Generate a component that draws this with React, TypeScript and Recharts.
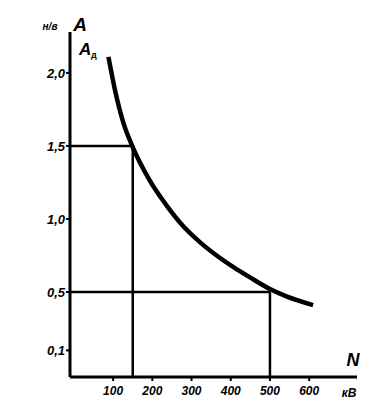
import React from "react";
import { LineChart, Line, XAxis, YAxis, ReferenceLine } from "recharts";

const voltageN = [88, 105, 126, 147, 194, 237, 279, 322, 364, 407, 449, 500, 542, 610];
const currentA = [2.11, 1.88, 1.66, 1.51, 1.26, 1.09, 0.95, 0.84, 0.75, 0.67, 0.6, 0.52, 0.47, 0.41];
const xTicks = [100, 200, 300, 400, 500, 600];
const yTicks = [0.1, 0.5, 1.0, 1.5, 2.0];
const markN = [150, 500];
const markA = [1.5, 0.5];
const xDomain: [number, number] = [-10, 722];
const yDomain: [number, number] = [-0.082, 2.28];

const data = voltageN.map((n, i) => ({ n, a: currentA[i] }));

const font = "'Liberation Sans', Arial, sans-serif";
const fmt = (v: number) => v.toFixed(1).replace(".", ",");

export default function App() {
  const tickStyle = { fontFamily: font, fontSize: 13, fontWeight: 700, fontStyle: "italic", fill: "#000" };
  return (
    <div style={{ position: "absolute", left: 0, top: 0, width: 391, height: 420, background: "#fff" }}>
      <LineChart width={391} height={420} data={data} margin={{ top: 32, right: 34, bottom: 0, left: 0 }}>
        <XAxis
          type="number"
          dataKey="n"
          domain={xDomain}
          ticks={xTicks}
          allowDataOverflow
          height={43}
          axisLine={{ stroke: "#000", strokeWidth: 3 }}
          tickLine={{ stroke: "#000", strokeWidth: 2 }}
          tickSize={4}
          tickMargin={5}
          tick={{ ...tickStyle, fontSize: 12 }}
        />
        <YAxis
          type="number"
          domain={yDomain}
          ticks={yTicks}
          allowDataOverflow
          width={70}
          axisLine={{ stroke: "#000", strokeWidth: 3 }}
          tickLine={{ stroke: "#000", strokeWidth: 2 }}
          tickSize={4}
          tickMargin={1}
          tickFormatter={fmt}
          tick={tickStyle}
        />
        {markN.map((n, i) => (
          <ReferenceLine
            key={"h" + i}
            segment={[{ x: xDomain[0], y: markA[i] }, { x: n, y: markA[i] }]}
            stroke="#000"
            strokeWidth={2.5}
          />
        ))}
        {markN.map((n, i) => (
          <ReferenceLine
            key={"v" + i}
            segment={[{ x: n, y: yDomain[0] }, { x: n, y: markA[i] }]}
            stroke="#000"
            strokeWidth={2.5}
          />
        ))}
        <Line
          type="monotone"
          dataKey="a"
          stroke="#000"
          strokeWidth={4.5}
          dot={false}
          isAnimationActive={false}
        />
      </LineChart>
      <svg width={391} height={420} style={{ position: "absolute", left: 0, top: 0, pointerEvents: "none" }}>
        <g fontFamily={font} fontWeight={700} fontStyle="italic" fill="#000">
          <text x={50} y={30} fontSize={10} textAnchor="middle">н/в</text>
          <text x={80} y={31} fontSize={19} textAnchor="middle">A</text>
          <text x={79} y={55} fontSize={17}>A</text>
          <text x={91} y={58} fontSize={9} fontStyle="normal">д</text>
          <text x={353} y={366} fontSize={18} textAnchor="middle">N</text>
          <text x={349} y={397} fontSize={12} textAnchor="middle">кВ</text>
        </g>
      </svg>
    </div>
  );
}
